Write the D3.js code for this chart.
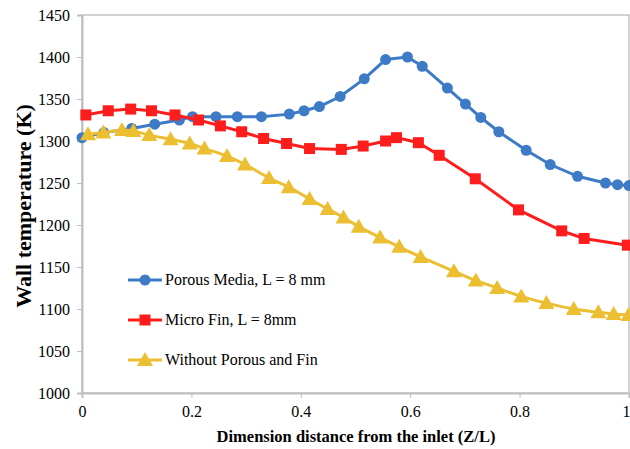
<!DOCTYPE html>
<html>
<head>
<meta charset="utf-8">
<script src="https://cdn.jsdelivr.net/npm/d3@7"></script>
<style>
  body { margin: 0; background: #fff; }
  svg { display: block; }
  svg text { font-family: "Liberation Serif", "Times New Roman", serif; }
</style>
</head>
<body>
<div id="chart"></div>
<script>
// Porous media, L = 8 mm
const porousX = [0, 0.04, 0.091, 0.133, 0.178, 0.202, 0.245, 0.284, 0.328, 0.379, 0.406, 0.434, 0.472, 0.516, 0.555, 0.595, 0.622, 0.668, 0.701, 0.729, 0.762, 0.812, 0.856, 0.906, 0.957, 0.979, 1.0];
const porousT = [1304, 1310, 1315, 1320, 1325, 1329, 1329, 1329, 1329, 1332, 1336, 1341, 1353, 1374, 1397, 1400, 1389, 1363, 1344, 1328, 1311, 1289, 1272, 1258, 1250, 1248, 1247];

// Micro fin, L = 8mm
const finX = [0.007, 0.048, 0.089, 0.127, 0.170, 0.213, 0.253, 0.292, 0.332, 0.374, 0.416, 0.474, 0.514, 0.555, 0.575, 0.615, 0.653, 0.719, 0.798, 0.877, 0.918, 0.997];
const finT = [1331, 1336, 1338, 1336, 1331, 1325, 1318, 1311, 1303, 1297, 1291, 1290, 1294, 1300, 1304, 1298, 1283, 1255, 1218, 1193, 1184, 1176];

// Without porous and fin
const plainX = [0.011, 0.039, 0.073, 0.094, 0.123, 0.162, 0.197, 0.224, 0.265, 0.298, 0.342, 0.378, 0.416, 0.449, 0.478, 0.506, 0.545, 0.580, 0.619, 0.680, 0.720, 0.759, 0.803, 0.849, 0.899, 0.944, 0.972, 0.999];
const plainT = [1308, 1310, 1313, 1312, 1307, 1302, 1297, 1291, 1282, 1272, 1256, 1245, 1231, 1219, 1209, 1198, 1185, 1174, 1162, 1145, 1134, 1125, 1115, 1107, 1100, 1096, 1094, 1093];

const xTicks = [0, 0.2, 0.4, 0.6, 0.8, 1];
const yTicks = [1000, 1050, 1100, 1150, 1200, 1250, 1300, 1350, 1400, 1450];
const seriesNames = ["Porous Media, L = 8 mm", "Micro Fin, L = 8mm", "Without Porous and Fin"];

const width = 630, height = 449;
const margin = { top: 15, right: 1, bottom: 56, left: 82 };
const serif = "'Liberation Serif', 'Times New Roman', serif";

const svg = d3.select("#chart").append("svg")
  .attr("width", width)
  .attr("height", height)
  .attr("font-family", serif);

const x = d3.scaleLinear().domain([0, 1]).range([margin.left, width - margin.right]);
const y = d3.scaleLinear().domain([1000, 1450]).range([height - margin.bottom, margin.top]);

// plot frame (top / right)
svg.append("rect")
  .attr("x", x(0)).attr("y", y(1450))
  .attr("width", x(1) - x(0)).attr("height", y(1000) - y(1450))
  .attr("fill", "none").attr("stroke", "#a6a6a6").attr("stroke-width", 1);

// axes
const yAxis = svg.append("g")
  .attr("transform", "translate(" + x(0) + ",0)")
  .call(d3.axisLeft(y).tickValues(yTicks).tickSize(5).tickFormat(d3.format("d")));
const xAxis = svg.append("g")
  .attr("transform", "translate(0," + y(1000) + ")")
  .call(d3.axisBottom(x).tickValues(xTicks).tickSize(5).tickFormat(d => d === 0 || d === 1 ? d : d.toFixed(1)));

[yAxis, xAxis].forEach(g => {
  g.attr("font-family", serif).attr("font-size", 16);
  g.select(".domain").attr("stroke", "#bfbfbf").attr("stroke-width", 2);
  g.selectAll(".tick line").attr("stroke", "#bfbfbf").attr("stroke-width", 1);
  g.selectAll("text").attr("fill", "#000").attr("font-family", serif).attr("font-size", 16);
});
yAxis.selectAll("text").attr("x", -12);
xAxis.selectAll("text").attr("y", 13).attr("dx", d => d === 1 ? -3 : 0);

// axis titles
svg.append("text")
  .attr("transform", "translate(31,206) rotate(-90)")
  .attr("text-anchor", "middle")
  .attr("font-size", 22).attr("font-weight", "bold")
  .text("Wall temperature (K)");

svg.append("text")
  .attr("x", 356).attr("y", 442)
  .attr("text-anchor", "middle")
  .attr("font-size", 16.5).attr("font-weight", "bold")
  .text("Dimension distance from the inlet (Z/L)");

const series = [
  { name: seriesNames[0], xs: porousX, ts: porousT, color: "#3d7bc6", marker: "circle", curve: d3.curveLinear },
  { name: seriesNames[1], xs: finX, ts: finT, color: "#fe1d1d", marker: "square", curve: d3.curveLinear },
  { name: seriesNames[2], xs: plainX, ts: plainT, color: "#ebbf31", marker: "triangle", curve: d3.curveCatmullRom }
];

function drawMarker(g, type, color) {
  if (type === "circle") {
    g.append("circle").attr("r", 5.5).attr("fill", color);
  } else if (type === "square") {
    g.append("rect").attr("x", -5.5).attr("y", -5.5).attr("width", 11).attr("height", 11).attr("fill", color);
  } else {
    g.append("path").attr("d", "M0,-8L8,6L-8,6Z").attr("fill", color);
  }
}

series.forEach(s => {
  const pts = s.xs.map((v, i) => [v, s.ts[i]]);
  const line = d3.line().x(d => x(d[0])).y(d => y(d[1])).curve(s.curve);
  svg.append("path")
    .datum(pts)
    .attr("fill", "none")
    .attr("stroke", s.color)
    .attr("stroke-width", 3)
    .attr("d", line);

  svg.append("g").selectAll("g")
    .data(pts)
    .enter()
    .append("g")
    .attr("transform", d => "translate(" + x(d[0]) + "," + y(d[1]) + ")")
    .each(function() { drawMarker(d3.select(this), s.marker, s.color); });
});

// legend
const legend = svg.append("g");
series.forEach((s, i) => {
  const ly = 280 + i * 40;
  legend.append("line")
    .attr("x1", 128).attr("x2", 162).attr("y1", ly).attr("y2", ly)
    .attr("stroke", s.color).attr("stroke-width", 3);
  const m = legend.append("g").attr("transform", "translate(145," + ly + ")");
  drawMarker(m, s.marker, s.color);
  legend.append("text")
    .attr("x", 165).attr("y", ly + 5)
    .attr("font-size", 16)
    .text(s.name);
});
</script>
</body>
</html>
